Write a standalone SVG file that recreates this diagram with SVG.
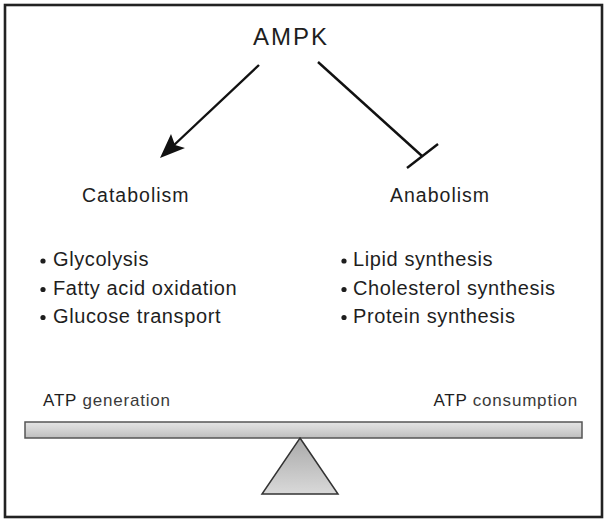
<svg xmlns="http://www.w3.org/2000/svg" width="608" height="522" viewBox="0 0 608 522">
<defs>
<style>
.t{font-family:"Liberation Sans","Arial",sans-serif;fill:#1e1e1e}
.lbl{font-size:19.5px;letter-spacing:1px}
.item{font-size:20px;letter-spacing:0.6px}
.atp{font-size:17px;letter-spacing:0.8px}
.dot{fill:#1e1e1e}
.conn{stroke:#111;stroke-width:2.4;fill:none}
</style>
<linearGradient id="beamG" x1="0" y1="0" x2="0" y2="1">
<stop offset="0" stop-color="#e4e4e4"/>
<stop offset="0.5" stop-color="#d2d2d2"/>
<stop offset="1" stop-color="#bdbdbd"/>
</linearGradient>
<linearGradient id="triG" x1="0" y1="0" x2="0" y2="1">
<stop offset="0" stop-color="#a9a9a9"/>
<stop offset="1" stop-color="#d9d9d9"/>
</linearGradient>
</defs>
<rect x="5" y="5" width="597" height="512" fill="#fff" stroke="#222" stroke-width="2.6"/>

<g id="ampk"><text class="t" x="253" y="45" font-size="24" letter-spacing="2">AMPK</text></g>

<g id="catabolism"><text class="t lbl" x="82" y="202">Catabolism</text></g>
<g id="anabolism"><text class="t lbl" x="390" y="202">Anabolism</text></g>

<g id="catabolism-list">
<circle class="dot" cx="43" cy="261" r="2.6"/>
<text class="t item" x="53" y="266">Glycolysis</text>
<circle class="dot" cx="43" cy="289.5" r="2.6"/>
<text class="t item" x="53" y="295">Fatty acid oxidation</text>
<circle class="dot" cx="43" cy="317.5" r="2.6"/>
<text class="t item" x="53" y="323">Glucose transport</text>
</g>

<g id="anabolism-list">
<circle class="dot" cx="344" cy="261" r="2.6"/>
<text class="t item" x="353" y="266">Lipid synthesis</text>
<circle class="dot" cx="344" cy="289.5" r="2.6"/>
<text class="t item" x="353" y="295">Cholesterol synthesis</text>
<circle class="dot" cx="344" cy="317.5" r="2.6"/>
<text class="t item" x="353" y="323">Protein synthesis</text>
</g>

<g id="atp-generation"><text class="t atp" x="43" y="406">ATP <tspan fill="#3a3a3a">generation</tspan></text></g>
<g id="atp-consumption"><text class="t atp" x="578" y="406" text-anchor="end">ATP <tspan fill="#3a3a3a">consumption</tspan></text></g>

<g id="seesaw">
<rect x="25" y="422" width="557" height="16" fill="url(#beamG)" stroke="#555" stroke-width="1.5"/>
<polygon points="300,438 338,494 262,494" fill="url(#triG)" stroke="#333" stroke-width="1.5" stroke-linejoin="miter"/>
</g>

<g id="connectors">
<line class="conn" x1="259" y1="65" x2="173" y2="146"/>
<polygon points="160,158 171,134 175,145 185,148" fill="#111"/>
<line class="conn" x1="318" y1="62" x2="422" y2="156"/>
<line class="conn" x1="407" y1="168" x2="438" y2="144"/>
</g>
</svg>
